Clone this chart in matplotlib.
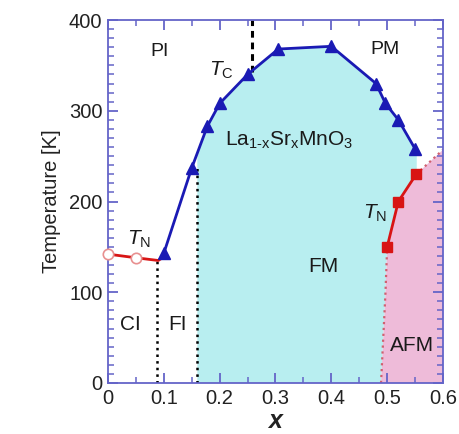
import matplotlib
matplotlib.use("Agg")
import matplotlib.pyplot as plt
import numpy as np
from matplotlib.ticker import MultipleLocator

plt.rcParams['font.family'] = ['Liberation Sans', 'DejaVu Sans']
plt.rcParams['mathtext.fontset'] = 'custom'
plt.rcParams['mathtext.rm'] = 'Liberation Sans'
plt.rcParams['mathtext.it'] = 'Liberation Sans:italic'

# Curie temperature (blue triangles)
tc_x = [0.10, 0.15, 0.178, 0.20, 0.25, 0.305, 0.40, 0.48, 0.497, 0.52, 0.55]
tc_T = [143, 237, 283, 308, 340, 368, 371, 330, 308, 290, 258]

# Neel temperature, low x (open circles + red curve)
tnl_x = [0.0, 0.05]
tnl_T = [142, 138]
tnl_curve_x = [0.0, 0.05, 0.09, 0.10]
tnl_curve_T = [142, 138, 135, 139]

# Neel temperature, high x (red squares)
tnh_x = [0.50, 0.52, 0.552]
tnh_T = [150, 200, 230]

# AFM boundaries
afm_low_x = [0.489, 0.493, 0.497, 0.50]
afm_low_T = [0, 50, 100, 150]
afm_up_x = [0.552, 0.60]
afm_up_T = [230, 257]

# vertical phase lines
ci_fi_x, ci_fi_T = 0.088, 135
fi_fm_x, fi_fm_T = 0.16, 237
pi_x, pi_T = 0.258, 343

blue = '#1a1ab4'
red = '#d81414'
cyan = '#b8eef0'
pink = '#eebbd9'
axc = '#6464c8'

fig = plt.figure(figsize=(4.6, 4.34), dpi=100)
ax = fig.add_axes([108/460, 51/434, 335/460, 363/434])

# cyan FM region
tc_at_fi = np.interp(fi_fm_x, tc_x, tc_T)
cx = [fi_fm_x, fi_fm_x] + [x for x in tc_x if x > fi_fm_x] + [tc_x[-1] + 0.003, tc_x[-1] + 0.003] \
     + tnh_x[::-1][1:] + afm_low_x[::-1]
cT = [0, tc_at_fi] + [t for x, t in zip(tc_x, tc_T) if x > fi_fm_x] + [tc_T[-1], tnh_T[-1] + 2] \
     + tnh_T[::-1][1:] + afm_low_T[::-1]
ax.fill(cx, cT, color=cyan, lw=0, zorder=0)

# pink AFM region
px = afm_low_x + tnh_x[1:] + afm_up_x + [0.6]
pT = afm_low_T + tnh_T[1:] + afm_up_T + [0]
ax.fill(px, pT, color=pink, lw=0, zorder=0)

# boundaries
ax.plot(afm_low_x, afm_low_T, color='#d06070', ls=':', lw=1.6, zorder=2)
ax.plot(afm_up_x, afm_up_T, color='#d06070', ls=':', lw=1.6, zorder=2)
ax.plot([ci_fi_x, ci_fi_x], [0, ci_fi_T], color='black', ls=':', lw=1.8, zorder=2)
ax.plot([fi_fm_x, fi_fm_x], [0, fi_fm_T], color='black', ls=':', lw=1.8, zorder=2)
ax.plot([pi_x, pi_x], [pi_T, 400], color='black', ls=(0, (2.2, 1.6)), lw=2.2, zorder=2)

# data
ax.plot(tnl_curve_x, tnl_curve_T, color=red, lw=2, zorder=3)
ax.plot(tnl_x, tnl_T, 'o', ms=7.5, mfc='white', mec='#e89090', mew=1.2, zorder=4, clip_on=False)
ax.plot(tc_x, tc_T, '-^', color=blue, lw=2, ms=9, zorder=5)
ax.plot(tnh_x, tnh_T, '-s', color=red, lw=2, ms=7.5, zorder=5)

ax.set_xlim(0, 0.6)
ax.set_ylim(0, 400)
ax.set_xticks([0, 0.1, 0.2, 0.3, 0.4, 0.5, 0.6])
ax.set_xticklabels(['0', '0.1', '0.2', '0.3', '0.4', '0.5', '0.6'])
ax.xaxis.set_minor_locator(MultipleLocator(0.05))
ax.yaxis.set_major_locator(MultipleLocator(100))
ax.yaxis.set_minor_locator(MultipleLocator(10))
ax.tick_params(which='both', direction='in', top=True, right=True, colors=axc,
               labelcolor='#222222', labelsize=14.5)
ax.tick_params(which='major', length=7, width=1.3, pad=4)
ax.tick_params(which='minor', length=4, width=1.1)
for s in ax.spines.values():
    s.set_color(axc)
    s.set_linewidth(1.3)

ax.set_ylabel('Temperature [K]', fontsize=14.5, color='#222222', labelpad=6)
ax.set_xlabel('x', fontsize=18, style='italic', fontweight='bold', color='#222222', labelpad=1)

tc = '#1a1a1a'
ax.text(0.093, 365, 'PI', fontsize=14, ha='center', va='center', color=tc)
ax.text(0.497, 367, 'PM', fontsize=14, ha='center', va='center', color=tc)
ax.text(0.203, 344, r'$T_{\rm C}$', fontsize=15, ha='center', va='center', color=tc)
ax.text(0.21, 262, r'La$_{\rm 1\text{-}x}$Sr$_{\rm x}$MnO$_{\rm 3}$', fontsize=15, ha='left',
        va='baseline', color=tc)
ax.text(0.385, 128, 'FM', fontsize=15, ha='center', va='center', color=tc)
ax.text(0.545, 41, 'AFM', fontsize=15, ha='center', va='center', color=tc)
ax.text(0.04, 64, 'CI', fontsize=15, ha='center', va='center', color=tc)
ax.text(0.124, 64, 'FI', fontsize=15, ha='center', va='center', color=tc)
ax.text(0.055, 158, r'$T_{\rm N}$', fontsize=15, ha='center', va='center', color=tc)
ax.text(0.478, 187, r'$T_{\rm N}$', fontsize=15, ha='center', va='center', color=tc)

fig.savefig('out.png', dpi=100)
